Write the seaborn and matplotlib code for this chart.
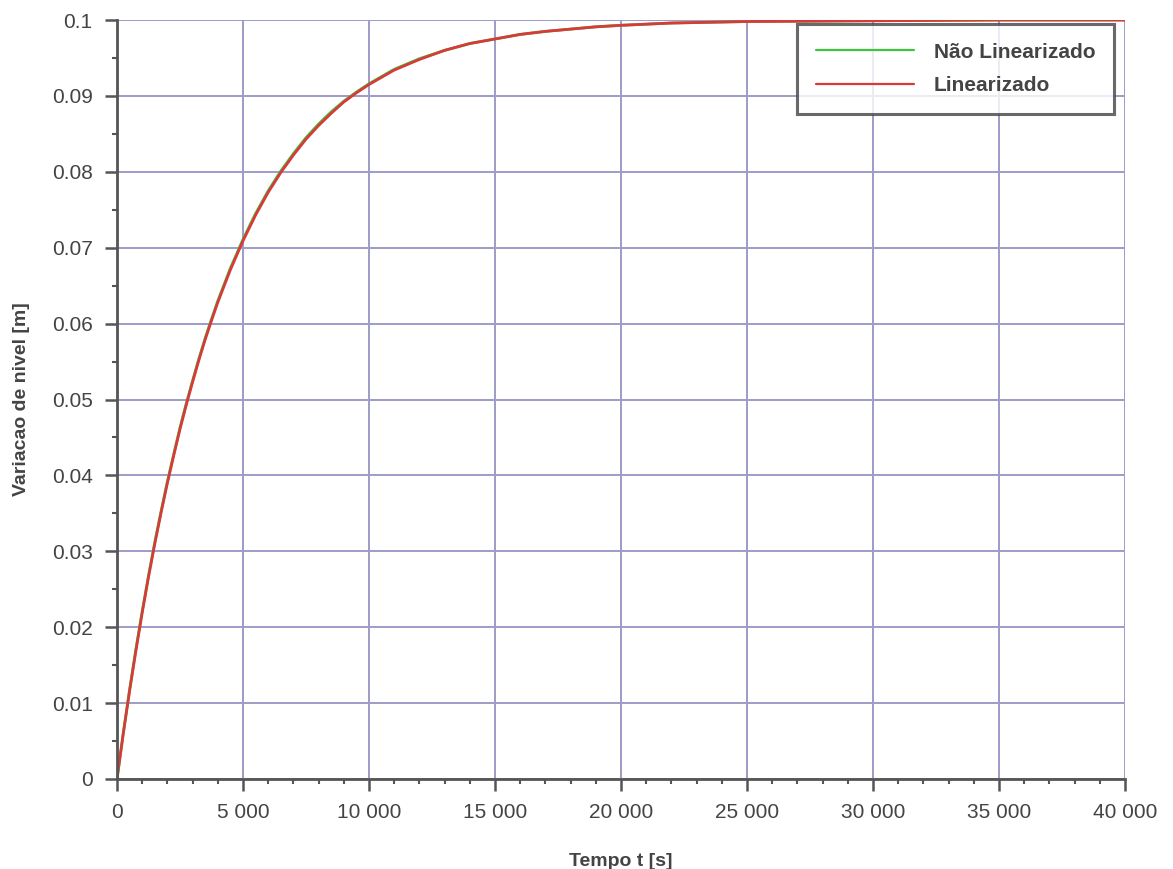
import numpy as np
import pandas as pd
import matplotlib
matplotlib.use("Agg")
import matplotlib.pyplot as plt
import seaborn as sns
from matplotlib.ticker import MultipleLocator, FuncFormatter

# Values
tempo = [0, 250, 500, 750, 1000, 1250, 1500, 1750, 2000, 2250, 2500, 2750,
         3000, 3250, 3500, 3750, 4000, 4500, 5000, 5500, 6000, 6500, 7000,
         7500, 8000, 8500, 9000, 9500, 10000, 11000, 12000, 13000, 14000,
         15000, 16000, 17000, 18000, 19000, 20000, 22000, 25000, 30000,
         35000, 40000]
nao_linearizado = [0.0, 0.0061, 0.0118, 0.0171, 0.0221, 0.0268, 0.0312, 0.0353,
                   0.0392, 0.0428, 0.0463, 0.0495, 0.0525, 0.0554, 0.0581,
                   0.0606, 0.0630, 0.0673, 0.0711, 0.0745, 0.0775, 0.0801,
                   0.0824, 0.0845, 0.0863, 0.0879, 0.0893, 0.0905, 0.0916,
                   0.0935, 0.0949, 0.0960, 0.0969, 0.0975, 0.0981, 0.0985,
                   0.0988, 0.0991, 0.0993, 0.0996, 0.0998, 0.0999, 0.1000,
                   0.1000]
linearizado = [0.0, 0.0060, 0.0116, 0.0169, 0.0219, 0.0266, 0.0310, 0.0351,
               0.0390, 0.0426, 0.0461, 0.0493, 0.0523, 0.0552, 0.0579, 0.0604,
               0.0628, 0.0671, 0.0709, 0.0743, 0.0773, 0.0799, 0.0822, 0.0843,
               0.0861, 0.0877, 0.0892, 0.0904, 0.0915, 0.0934, 0.0948, 0.0960,
               0.0969, 0.0975, 0.0981, 0.0985, 0.0988, 0.0991, 0.0993, 0.0996,
               0.0998, 0.0999, 0.1000, 0.1000]
serie_nomes = ["Não Linearizado", "Linearizado"]
x_ticks = [0, 5000, 10000, 15000, 20000, 25000, 30000, 35000, 40000]
y_ticks = [0, 0.01, 0.02, 0.03, 0.04, 0.05, 0.06, 0.07, 0.08, 0.09, 0.1]

df = pd.DataFrame({
    "t": tempo * 2,
    "y": nao_linearizado + linearizado,
    "serie": [serie_nomes[0]] * len(tempo) + [serie_nomes[1]] * len(tempo),
})

sns.set_style("white")
plt.rcParams['font.family'] = ['Liberation Sans', 'DejaVu Sans']

fig = plt.figure(figsize=(11.73, 8.69), dpi=100)
ax = fig.add_axes([117/1173, 1 - 779/869, (1125 - 117)/1173, (779 - 20)/869])

sns.lineplot(data=df, x="t", y="y", hue="serie",
             palette={serie_nomes[0]: "#3cc43c", serie_nomes[1]: "#d83a3a"},
             linewidth=2.0, ax=ax, legend=True)

ax.set_xlim(0, 40000)
ax.set_ylim(0, 0.1)
ax.set_xticks(x_ticks)
ax.set_yticks(y_ticks)
ax.xaxis.set_minor_locator(MultipleLocator(1000))
ax.yaxis.set_minor_locator(MultipleLocator(0.005))


def fmt_x(v, pos):
    return f"{int(round(v)):,}".replace(",", " ")


def fmt_y(v, pos):
    if abs(v) < 1e-12:
        return "0"
    if abs(v - 0.1) < 1e-9:
        return "0.1"
    return f"{v:.2f}"


ax.xaxis.set_major_formatter(FuncFormatter(fmt_x))
ax.yaxis.set_major_formatter(FuncFormatter(fmt_y))

ax.grid(True, which="major", color="#9c9cc8", linewidth=1.4)
ax.set_axisbelow(True)
for s in ["top", "right"]:
    ax.spines[s].set_visible(False)
for s in ["left", "bottom"]:
    ax.spines[s].set_color("#555555")
    ax.spines[s].set_linewidth(2.0)

ax.tick_params(which="both", bottom=True, left=True, top=False, right=False)
ax.tick_params(which="major", direction="out", length=8.5, width=1.8,
               color="#555555", labelsize=15, labelcolor="#444444")
ax.tick_params(which="minor", direction="out", length=3.5, width=1.5,
               color="#555555")
ax.tick_params(axis="y", which="major", pad=9)
ax.tick_params(axis="x", which="major", pad=9)

ax.set_xlabel("Tempo t [s]", fontsize=14, fontweight="bold", color="#444444",
              labelpad=22)
ax.set_ylabel("Variacao de nivel [m]", fontsize=14, fontweight="bold",
              color="#444444", labelpad=16)

leg = ax.legend(loc="upper right", bbox_to_anchor=(1114/1173, 1 - 24/869),
                bbox_transform=fig.transFigure, frameon=True, fancybox=False,
                fontsize=15, handlelength=4.7, handletextpad=0.95,
                borderpad=0.9, labelspacing=0.68, borderaxespad=0)
leg.get_frame().set_edgecolor("#444444")
leg.get_frame().set_linewidth(2.2)
for txt in leg.get_texts():
    txt.set_fontweight("bold")
    txt.set_color("#444444")
for line in leg.get_lines():
    line.set_linewidth(1.6)

fig.savefig("out.png", dpi=100)
